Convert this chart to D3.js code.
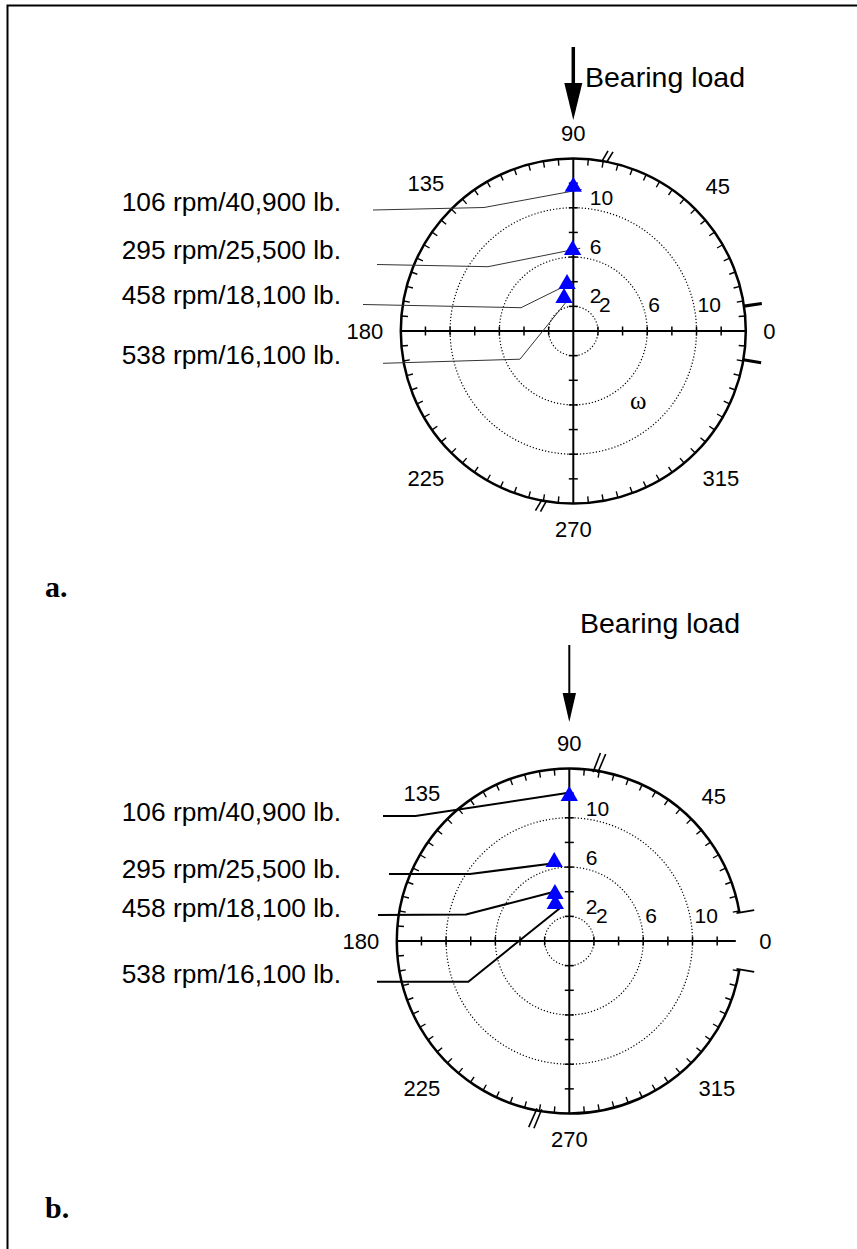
<!DOCTYPE html>
<html>
<head>
<meta charset="utf-8">
<script src="https://cdn.jsdelivr.net/npm/d3@7"></script>
<style>
  html, body { margin: 0; padding: 0; background: #fff; }
  svg { display: block; }
</style>
</head>
<body>
<script>
// ---- data -------------------------------------------------------------
const angleLabels = [0, 45, 90, 135, 180, 225, 270, 315];   // degrees
const ringValues = [2, 6, 10];                               // dotted amplitude rings
const axisTickValues = [2, 4, 6, 8, 10, 12];                 // ticks along the axes
const ampMax = 14;                                           // outer circle amplitude
const seriesLabels = [
  "106 rpm/40,900 lb.",
  "295 rpm/25,500 lb.",
  "458 rpm/18,100 lb.",
  "538 rpm/16,100 lb."
];
// panel a: phase angle (deg) and amplitude of each run
const phaseA = [90, 90.5, 97.6, 105.7];
const ampA = [11.7, 6.58, 3.85, 2.78];
// panel b
const phaseB = [90, 100.8, 107, 110.7];
const ampB = [11.77, 6.53, 3.99, 3.21];

// ---- layout -----------------------------------------------------------
const W = 857, H = 1249, R = 172.5;
const svg = d3.select("body").append("svg").attr("width", W).attr("height", H);
svg.append("rect").attr("width", W).attr("height", H).attr("fill", "#fff");

// frame (top and left edges)
svg.append("path").attr("d", `M7.5,${H} L7.5,5.5 L${W},5.5`)
  .attr("fill", "none").attr("stroke", "#000").attr("stroke-width", 2);

const rScale = d3.scaleLinear().domain([0, ampMax]).range([0, R]);
const rad = d => d * Math.PI / 180;

const panels = [
  {
    cx: 573.3, cy: 331, phase: phaseA, amp: ampA,
    letter: "a.", letterY: 597,
    arrow: { top: 47, headBase: 83, tip: 120, half: 9, shaft: 3.5 },
    loadText: { x: 585, y: 87 },
    labels: [[341, 211], [341, 259], [341, 304], [341, 364]],
    leaders: [[[373, 210], [484, 207.5]], [[377, 264.5], [488, 266.7]],
              [[363, 304.5], [521, 307.7]], [[383, 363.3], [520, 359.2]]],
    leaderEnd: [[8.4, 2.6], [7.7, -1.7], [0, 1], [4.3, 1.3]],
    leaderStyle: { stroke: "#333", width: 1 },
    breakAngle: [79, 259.6], breakSpan: [-1, 11],
    rightMarks: { type: "ticks", angles: [8.3, -9.6] },
    showOmega: true,
    vLabelDy: -3, hLabelDy: -19, hLabelDx: 1
  },
  {
    cx: 569.3, cy: 941, phase: phaseB, amp: ampB,
    letter: "b.", letterY: 1218,
    arrow: { top: 645, headBase: 693, tip: 722, half: 6.7, shaft: 2 },
    loadText: { x: 580, y: 633 },
    labels: [[341, 821], [341, 878], [341, 916.5], [341, 983]],
    leaders: [[[383, 816], [415.5, 816]], [[389, 874], [470, 874]],
              [[378, 915], [466, 914.5]], [[377, 981.7], [468.3, 981.7]]],
    leaderEnd: [[1, -3.5], [-2, 1.5], [-1.7, -2], [6.4, 2.7]],
    leaderStyle: { stroke: "#000", width: 2 },
    breakAngle: [80.5, 259.2], breakSpan: [-2, 18],
    rightMarks: { type: "gap", angles: [9.5, -9.5] },
    showOmega: false,
    vLabelDy: -2, hLabelDy: -18, hLabelDx: 2
  }
];

panels.forEach(p => {
  const g = svg.append("g");
  const px = (deg, r) => p.cx + r * Math.cos(rad(deg));
  const py = (deg, r) => p.cy - r * Math.sin(rad(deg));
  const isGap = p.rightMarks.type === "gap";
  const gapHalf = isGap ? p.rightMarks.angles[0] : 0;

  // dotted amplitude rings
  g.selectAll("circle.ring").data(ringValues).join("circle")
    .attr("cx", p.cx).attr("cy", p.cy).attr("r", d => rScale(d))
    .attr("fill", "none").attr("stroke", "#000").attr("stroke-width", 1.2)
    .attr("stroke-dasharray", "1.2,2");

  // outer circle (with an opening around 0 deg in panel b)
  if (isGap) {
    const arc = d3.arc().innerRadius(R).outerRadius(R)
      .startAngle(rad(90 - 360 + gapHalf)).endAngle(rad(90 - gapHalf));
    g.append("path").attr("d", arc()).attr("transform", `translate(${p.cx},${p.cy})`)
      .attr("fill", "none").attr("stroke", "#000").attr("stroke-width", 2.5);
  } else {
    g.append("circle").attr("cx", p.cx).attr("cy", p.cy).attr("r", R)
      .attr("fill", "none").attr("stroke", "#000").attr("stroke-width", 2.5);
  }

  // 5-degree ticks on the outer circle, pointing inward
  const degTicks = d3.range(0, 360, 5).filter(a => a % 90 !== 0)
    .filter(a => !isGap || (a > gapHalf && a < 360 - gapHalf));
  g.selectAll("line.deg").data(degTicks).join("line")
    .attr("x1", d => px(d, R)).attr("y1", d => py(d, R))
    .attr("x2", d => px(d, R - 6.5)).attr("y2", d => py(d, R - 6.5))
    .attr("stroke", "#000").attr("stroke-width", 1.4);

  // axes
  const rightEnd = isGap ? R - 6 : R;
  g.append("line").attr("x1", p.cx - R).attr("y1", p.cy).attr("x2", p.cx + rightEnd).attr("y2", p.cy)
    .attr("stroke", "#000").attr("stroke-width", 2);
  g.append("line").attr("x1", p.cx).attr("y1", p.cy - R).attr("x2", p.cx).attr("y2", p.cy + R)
    .attr("stroke", "#000").attr("stroke-width", 2);

  // axis ticks
  const signed = axisTickValues.flatMap(v => [v, -v]);
  g.selectAll("line.ht").data(signed).join("line")
    .attr("x1", d => p.cx + Math.sign(d) * rScale(Math.abs(d))).attr("x2", d => p.cx + Math.sign(d) * rScale(Math.abs(d)))
    .attr("y1", p.cy - 4.5).attr("y2", p.cy + 4.5)
    .attr("stroke", "#000").attr("stroke-width", 1.5);
  g.selectAll("line.vt").data(signed).join("line")
    .attr("y1", d => p.cy + Math.sign(d) * rScale(Math.abs(d))).attr("y2", d => p.cy + Math.sign(d) * rScale(Math.abs(d)))
    .attr("x1", p.cx - 4.5).attr("x2", p.cx + 4.5)
    .attr("stroke", "#000").attr("stroke-width", 1.5);

  // ring value labels along both axes
  g.selectAll("text.vl").data(ringValues).join("text")
    .attr("x", p.cx + 16.5).attr("y", d => p.cy - rScale(d) + p.vLabelDy)
    .attr("font-family", "Liberation Sans, Arial, sans-serif").attr("font-size", 21)
    .text(d => d);
  g.selectAll("text.hl").data(ringValues).join("text")
    .attr("x", d => p.cx + rScale(d) + p.hLabelDx).attr("y", p.cy + p.hLabelDy)
    .attr("font-family", "Liberation Sans, Arial, sans-serif").attr("font-size", 21)
    .text(d => d);

  // angle labels around the circle
  const fs = 22, capHalf = 0.716 * fs / 2;
  g.selectAll("text.ang").data(angleLabels).join("text")
    .attr("font-family", "Liberation Sans, Arial, sans-serif").attr("font-size", fs)
    .attr("text-anchor", "middle")
    .text(d => d)
    .each(function (d) {
      const hw = this.getComputedTextLength() / 2;
      const c = Math.cos(rad(d)), s = Math.sin(rad(d));
      const dist = R + 17.5 + Math.abs(hw * c) + Math.abs(capHalf * s);
      d3.select(this).attr("x", p.cx + dist * c).attr("y", p.cy - dist * s + capHalf);
    });

  // break marks "//" on the circle
  p.breakAngle.forEach(a => {
    [-0.8, 0.8].forEach(off => {
      const th = a + off;
      g.append("line")
        .attr("x1", px(th + 0.7, R + p.breakSpan[0])).attr("y1", py(th + 0.7, R + p.breakSpan[0]))
        .attr("x2", px(th - 0.7, R + p.breakSpan[1])).attr("y2", py(th - 0.7, R + p.breakSpan[1]))
        .attr("stroke", "#000").attr("stroke-width", 1.6);
    });
  });

  // marks beside 0 deg
  p.rightMarks.angles.forEach(a => {
    if (isGap) {
      g.append("line")
        .attr("x1", px(a, R - 3)).attr("y1", py(a, R - 3))
        .attr("x2", px(a, R + 15)).attr("y2", py(a, R + 15))
        .attr("stroke", "#000").attr("stroke-width", 1.8);
    } else {
      g.append("line")
        .attr("x1", px(a, R)).attr("y1", py(a, R))
        .attr("x2", px(a, R + 18)).attr("y2", py(a, R + 18))
        .attr("stroke", "#000").attr("stroke-width", 3.2);
    }
  });

  // bearing load arrow
  const ar = p.arrow;
  g.append("line").attr("x1", p.cx).attr("x2", p.cx).attr("y1", ar.top).attr("y2", ar.headBase + 2)
    .attr("stroke", "#000").attr("stroke-width", ar.shaft);
  g.append("path")
    .attr("d", `M${p.cx - ar.half},${ar.headBase} L${p.cx + ar.half},${ar.headBase} L${p.cx},${ar.tip} Z`)
    .attr("fill", "#000");
  g.append("text").attr("x", p.loadText.x).attr("y", p.loadText.y)
    .attr("font-family", "Liberation Sans, Arial, sans-serif").attr("font-size", 28.5)
    .text("Bearing load");

  // data points
  const pts = p.phase.map((ph, i) => ({
    x: px(ph, rScale(p.amp[i])), y: py(ph, rScale(p.amp[i])), i
  }));

  // leader lines from labels to points
  g.selectAll("polyline.lead").data(pts).join("polyline")
    .attr("points", d => {
      const [s, e] = p.leaders[d.i];
      const off = p.leaderEnd[d.i];
      return [s, e, [d.x + off[0], d.y + off[1]]].map(q => q.join(",")).join(" ");
    })
    .attr("fill", "none").attr("stroke", p.leaderStyle.stroke)
    .attr("stroke-width", p.leaderStyle.width);

  g.selectAll("path.pt").data(pts).join("path")
    .attr("d", d3.symbol(d3.symbolTriangle, 130))
    .attr("transform", d => `translate(${d.x},${d.y})`)
    .attr("fill", "#0000ff");

  // series labels
  g.selectAll("text.sl").data(seriesLabels).join("text")
    .attr("x", (d, i) => p.labels[i][0]).attr("y", (d, i) => p.labels[i][1])
    .attr("text-anchor", "end")
    .attr("font-family", "Liberation Sans, Arial, sans-serif").attr("font-size", 26.3)
    .text(d => d);

  if (p.showOmega) {
    g.append("text").attr("x", p.cx + 65).attr("y", p.cy + 78)
      .attr("text-anchor", "middle")
      .attr("font-family", "Liberation Serif, Times New Roman, serif").attr("font-size", 25)
      .text("ω");
  }

  // panel letter
  svg.append("text").attr("x", 45).attr("y", p.letterY)
    .attr("font-family", "Liberation Serif, Times New Roman, serif").attr("font-weight", "bold")
    .attr("font-size", 30)
    .text(p.letter);
});
</script>
</body>
</html>
